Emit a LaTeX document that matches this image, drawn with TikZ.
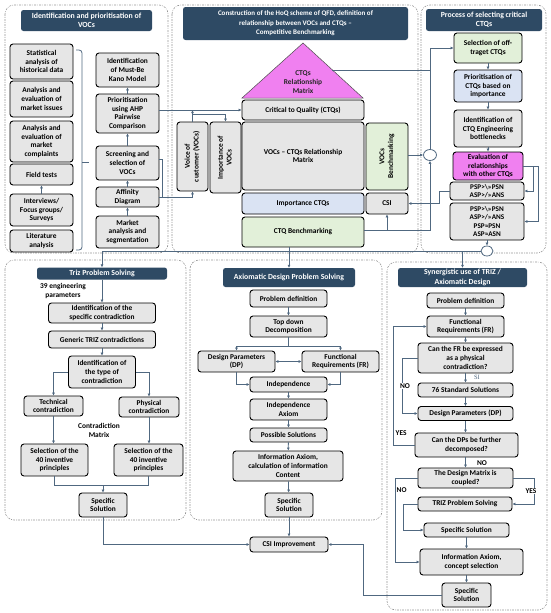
\documentclass[tikz,border=0pt]{standalone}
\usepackage{fontspec}
\setmainfont{Carlito}
\newfontfamily\sifont{Liberation Serif}
\usetikzlibrary{arrows.meta,positioning,calc,shapes.geometric}
\definecolor{titleblue}{RGB}{46,74,100}
\definecolor{boxgray}{RGB}{230,230,230}
\definecolor{boxgreen}{RGB}{226,240,217}
\definecolor{boxblue}{RGB}{218,227,243}
\definecolor{boxpink}{RGB}{240,128,240}
\definecolor{linecol}{RGB}{80,104,128}
\definecolor{framecol}{RGB}{150,150,150}
\tikzset{
  stepbox/.style={draw=black, line width=0.9pt, rounded corners=3pt, fill=boxgray,
    align=center, inner sep=0.5pt, font=\fontsize{7.4}{8.8}\selectfont\bfseries},
  titlebox/.style={fill=titleblue, rounded corners=2.5pt, align=center, inner sep=0.5pt,
    text=white, font=\fontsize{7.8}{9.4}\selectfont\bfseries},
  panel/.style={draw=framecol, line width=0.6pt, rounded corners=9pt,
    dash pattern=on 2pt off 1.2pt on 0.6pt off 1.2pt},
  conn/.style={draw=linecol, line width=0.8pt, -{Latex[length=3pt,width=3pt]}},
  plain/.style={draw=linecol, line width=0.8pt},
  lbl/.style={font=\fontsize{7.4}{8.8}\selectfont\bfseries, align=center, inner sep=0.5pt},
  hub/.style={ellipse, draw=linecol, line width=0.8pt, fill=white,
    minimum width=13, minimum height=11, inner sep=0pt}
}
\newcommand{\vtext}[1]{\rotatebox{90}{\begin{tabular}{@{}c@{}}#1\end{tabular}}}
\begin{document}
\begin{tikzpicture}[x=1pt,y=-1pt]
	\useasboundingbox (0,0) rectangle (550,613);
	% panels
	\draw[panel] (5,5) rectangle (168,253);
	\draw[panel] (172,5) rectangle (418,253);
	\draw[panel] (421,5) rectangle (546,253);
	\draw[panel] (5,260) rectangle (186,520);
	\draw[panel] (190,260) rectangle (382,520);
	\draw[panel] (387,262) rectangle (547,610);

	% VOCs
	\node[titlebox, minimum width=131, minimum height=21] (tvoc) at (86.5,20.5) {Identification and prioritisation of\\VOCs};
	\node[stepbox, minimum width=63, minimum height=35] (stat) at (41.5,61.5) {Statistical\\analysis of\\historical data};
	\node[stepbox, minimum width=63, minimum height=36] (issues) at (41.5,99) {Analysis and\\evaluation of\\market issues};
	\node[stepbox, minimum width=63, minimum height=41] (compl) at (41.5,141.5) {Analysis and\\evaluation of\\market\\complaints};
	\node[stepbox, minimum width=63, minimum height=21] (field) at (41.5,174.5) {Field tests};
	\node[stepbox, minimum width=63, minimum height=32] (interv) at (41.5,210) {Interviews/\\Focus groups/\\Surveys};
	\node[stepbox, minimum width=63, minimum height=22] (lit) at (41.5,241) {Literature\\analysis};
	\node[stepbox, minimum width=63, minimum height=34] (kano) at (127.5,70) {Identification\\of Must-Be\\Kano Model};
	\node[stepbox, minimum width=63, minimum height=39] (ahp) at (127.5,113.5) {Prioritisation\\using AHP\\Pairwise\\Comparison};
	\node[stepbox, minimum width=63, minimum height=34] (screen) at (127.5,163) {Screening and\\selection of\\VOCs};
	\node[stepbox, minimum width=63, minimum height=20] (affin) at (127.5,197) {Affinity\\Diagram};
	\node[stepbox, minimum width=63, minimum height=32] (market) at (127.5,232) {Market\\analysis and\\segmentation};
	\draw[plain, rounded corners=3pt] (76,50) -- (82,50) -- (82,250) -- (76,250);
	\draw[plain] (82,162) -- (89,162);
	\draw[conn] (interv) -- (field);
	\draw[conn] (market) -- (affin);
	\draw[conn] (affin) -- (screen);
	\draw[conn] (screen) -- (ahp);
	\draw[conn] (ahp) -- (kano);

	% HoQ
	\node[titlebox, minimum width=225, minimum height=33, font=\fontsize{7}{9.5}\selectfont\bfseries] (thoq) at (295.5,23.5) {Construction of the HoQ scheme of QFD, definition of\\relationship between VOCs and CTQs --\\Competitive Benchmarking};
	\coordinate (apex) at (303,43);
	\coordinate (triL) at (242,98);
	\coordinate (triR) at (363,98);
	\draw[black!70, line width=0.5pt, fill=boxpink] (apex) -- (triR) -- (triL) -- cycle;
	\node[lbl, text=black!85] (ctqmat) at (303,82) {CTQs\\Relationship\\Matrix};
	\node[stepbox, minimum width=122, minimum height=20] (ctq) at (303,110) {Critical to Quality (CTQs)};
	\node[stepbox, minimum width=31, minimum height=69] (voc) at (192.5,156.5) {\vtext{Voice of\\customer (VOCs)}};
	\node[stepbox, minimum width=31, minimum height=71] (impv) at (225.5,157.5) {\vtext{Importance of\\VOCs}};
	\node[stepbox, minimum width=122, minimum height=68] (matrix) at (303,156) {VOCs -- CTQs Relationship\\Matrix};
	\node[stepbox, fill=boxgreen, minimum width=42, minimum height=67] (vocb) at (387,156.5) {\vtext{VOCs\\Benchmarking}};
	\node[stepbox, fill=boxblue, minimum width=122, minimum height=21] (impc) at (303,203.5) {Importance CTQs};
	\node[stepbox, minimum width=42, minimum height=21] (csi) at (387,203.5) {CSI};
	\node[stepbox, fill=boxgreen, minimum width=122, minimum height=30] (ctqb) at (303,232) {CTQ Benchmarking};

	% critical CTQs
	\node[titlebox, minimum width=116, minimum height=22] (tsel) at (484,20) {Process of selecting critical\\CTQs};
	\node[stepbox, fill=boxgreen, minimum width=68, minimum height=30] (offt) at (488,48) {Selection of off-\\traget CTQs};
	\node[stepbox, fill=boxblue, minimum width=68, minimum height=32] (prio) at (488,86) {Prioritisation of\\CTQs based on\\importance};
	\node[stepbox, minimum width=68, minimum height=37] (bott) at (488,128.5) {Identification of\\CTQ Engineering\\bottlenecks};
	\node[stepbox, fill=boxpink, minimum width=70, minimum height=28] (eval) at (488,166) {Evaluation of\\relationships\\with other CTQs};
	\node[stepbox, minimum width=74, minimum height=18, font=\fontsize{7.2}{8.3}\selectfont\bfseries] (psp1) at (487,191) {PSP>\textbackslash>>PSN\\ASP>/>>ANS};
	\node[stepbox, minimum width=74, minimum height=37, font=\fontsize{7.2}{8.3}\selectfont\bfseries] (psp2) at (487,221.5) {PSP>\textbackslash>>PSN\\ASP>/>>ANS\\PSP≈PSN\\ASP≈ASN};
	\node[hub] (hubA) at (430,155) {};
	\node[hub, minimum width=12, minimum height=10] (hubB) at (487,251) {};
	\draw[conn] (offt) -- (prio);
	\draw[conn] (prio) -- (bott);
	\draw[conn] (bott) -- (eval);
	\draw[conn] (eval.east) -- ++(10,0) |- (psp1.east);
	\draw[conn] (eval.east) -- ++(15,0) |- (psp2.east);
	\draw[conn] (psp2) -- (hubB);

	% links between the top panels
	\coordinate (vocsplit) at (192.5,114);
	\coordinate (vbus) at (162,197);
	\coordinate (triout) at ($(apex)!0.49!(triR)$);
	\coordinate (ctqbout) at ([yshift=2pt]ctqb.east);
	\draw[conn] (ahp.east |- ctq.west) -- (ctq.west);
	\draw[conn] (voc.north) -- (voc.north |- ctq.west);
	\draw[conn] (vocsplit) -| (impv.north);
	\draw[plain] ([yshift=4pt]screen.east) -| (vbus);
	\draw[plain] (affin.east) -- (vbus);
	\draw[conn] (vbus) -| (voc.south);
	\draw[plain] (triout) -- (triout -| hubA.north);
	\draw[conn] (hubA.north) |- (offt.west);
	\draw[conn] (vocb.east |- hubA.west) -- (hubA.west);
	\draw[conn] (ctqbout) -| (hubA.south);
	\draw[conn] (csi.south |- ctqbout) -- (csi.south);
	\draw[conn] (psp1.west) -- ++(-10,0) |- (csi.east);

	% TRIZ
	\node[titlebox, minimum width=130, minimum height=12] (ttriz) at (102,273.5) {Triz Problem Solving};
	\node[lbl] (eng) at (63,291) {39 engineering\\parameters};
	\node[stepbox, minimum width=107, minimum height=20] (spec) at (102,313) {Identification of the\\specific contradiction};
	\node[stepbox, minimum width=107, minimum height=17] (gen) at (102,339.5) {Generic TRIZ contradictions};
	\node[stepbox, minimum width=67, minimum height=32] (ctype) at (102,372) {Identification of\\the type of\\contradiction};
	\node[stepbox, minimum width=59, minimum height=20] (tech) at (53.5,406) {Technical\\contradiction};
	\node[stepbox, minimum width=60, minimum height=20] (phys) at (149,407) {Physical\\contradiction};
	\node[lbl] (cmat) at (99,430.5) {Contradiction\\Matrix};
	\node[stepbox, minimum width=67, minimum height=32] (inva) at (54.5,460) {Selection of the\\40 inventive\\principles};
	\node[stepbox, minimum width=69, minimum height=32] (invb) at (148.5,460) {Selection of the\\40 inventive\\principles};
	\node[stepbox, minimum width=48, minimum height=24] (solA) at (103,505) {Specific\\Solution};
	\coordinate (tjoin) at (103,485);
	\draw[conn] (ttriz.south -| spec.north) -- (spec.north);
	\draw[conn] (spec) -- (gen);
	\draw[conn] (gen) -- (ctype);
	\draw[conn] (ctype.west) -| (tech.north);
	\draw[conn] (ctype.east) -| (phys.north);
	\draw[conn] (tech.south) -- (tech.south |- inva.north);
	\draw[conn] (phys.south) -- (phys.south |- invb.north);
	\draw[plain] (inva.south) |- (tjoin);
	\draw[plain] (invb.south) |- (tjoin);
	\draw[conn] (tjoin) -- (solA.north);

	% Axiomatic design
	\node[titlebox, minimum width=132, minimum height=19] (taxd) at (289,277.5) {Axiomatic Design Problem Solving};
	\node[stepbox, minimum width=77, minimum height=17] (pdef) at (288.5,298.5) {Problem definition};
	\node[stepbox, minimum width=77, minimum height=21] (topd) at (288.5,326.5) {Top down\\Decomposition};
	\node[stepbox, minimum width=77, minimum height=21] (dp) at (236.5,361.5) {Design Parameters\\(DP)};
	\node[stepbox, minimum width=77, minimum height=21] (fr) at (340.5,361.5) {Functional\\Requirements (FR)};
	\node[stepbox, minimum width=77, minimum height=15] (indep) at (288.5,384.5) {Independence};
	\node[stepbox, minimum width=77, minimum height=21] (indax) at (288.5,409.5) {Independence\\Axiom};
	\node[stepbox, minimum width=77, minimum height=14] (poss) at (288.5,435) {Possible Solutions};
	\node[stepbox, minimum width=110, minimum height=30] (infa) at (288,466) {Information Axiom,\\calculation of information\\Content};
	\node[stepbox, minimum width=48, minimum height=24] (solB) at (289,505) {Specific\\Solution};
	\node[stepbox, minimum width=78, minimum height=15] (csiimp) at (289,544.5) {CSI Improvement};
	\coordinate (split) at (288.5,346);
	\draw[conn] (pdef) -- (topd);
	\draw[plain] (topd.south) -- (split);
	\draw[conn] (split) -| (dp.north);
	\draw[conn] (split) -| (fr.north);
	\draw[conn, {Latex[length=3pt,width=3pt]}-{Latex[length=3pt,width=3pt]}] (dp) -- (fr);
	\draw[conn] (dp.south) |- (indep.west);
	\draw[conn] (fr.south) |- (indep.east);
	\draw[conn] (indep) -- (indax);
	\draw[conn] (indax) -- (poss);
	\draw[conn] (poss) -- (infa);
	\draw[conn] (infa) -- (solB);
	\draw[conn] (solB) -- (csiimp);
	\draw[conn] (solA.south) |- (csiimp.west);

	% Synergistic TRIZ / AD
	\node[titlebox, minimum width=129, minimum height=19] (tsyn) at (462.5,277.5) {Synergistic use of TRIZ /\\Axiomatic Design};
	\node[stepbox, minimum width=77, minimum height=15] (pdefs) at (465.5,300.5) {Problem definition};
	\node[stepbox, minimum width=77, minimum height=21] (frs) at (465.5,326.5) {Functional\\Requirements (FR)};
	\node[stepbox, minimum width=95, minimum height=30] (canfr) at (465.5,358) {Can the FR be expressed\\as a physical\\contradiction?};
	\node[stepbox, minimum width=95, minimum height=14] (std) at (465.5,390) {76 Standard Solutions};
	\node[stepbox, minimum width=95, minimum height=14] (dps) at (465.5,413.5) {Design Parameters (DP)};
	\node[stepbox, minimum width=103, minimum height=24] (candp) at (466.5,445) {Can the DPs be further\\decomposed?};
	\node[stepbox, minimum width=95, minimum height=20] (dmat) at (465.5,478) {The Design Matrix is\\coupled?};
	\node[stepbox, minimum width=94, minimum height=14] (trizs) at (465,504) {TRIZ Problem Solving};
	\node[stepbox, minimum width=85, minimum height=14] (solC) at (466.5,530) {Specific Solution};
	\node[stepbox, minimum width=103, minimum height=26] (infc) at (471.5,562) {Information Axiom,\\concept selection};
	\node[stepbox, minimum width=49, minimum height=24] (solD) at (466.5,595) {Specific\\Solution};
	\draw[conn] (pdefs) -- (frs);
	\draw[conn] (frs) -- (canfr);
	\draw[conn] (canfr) -- (std);
	\draw[conn] (std) -- (dps);
	\draw[conn] (dps) -- (candp.north -| dps.south);
	\draw[conn] (candp.south -| dmat.north) -- (dmat.north);
	\draw[conn] (canfr.west) -- ++(-15,0) |- (dps.west);
	\draw[conn] (candp.west) -- ++(-21,0) |- (frs.west);
	\draw[conn] (dmat.west) -- ++(-22,0) |- (infc.west);
	\draw[conn] (dmat.east) -- ++(21,0) |- (trizs.east);
	\draw[conn] (trizs.west) -- ++(-14,0) |- (solC.west);
	\draw[conn] (solC.south) -- (solC.south |- infc.north);
	\draw[conn] (infc.south -| solD.north) -- (solD.north);
	\draw[conn] (solD.west) -| ($(csiimp.east)+(35,0)$) -- (csiimp.east);
	\node[font=\fontsize{6.5}{7}\selectfont\sifont, text=linecol, inner sep=0pt] (si) at (477,377.5) {SI};
	\node[lbl, fill=white] (nofr) at (405,386) {NO};
	\node[lbl, anchor=west] (yesdp) at (395,433) {YES};
	\node[lbl] (nodec) at (482,463) {NO};
	\node[lbl, anchor=west] (nocp) at (396,490) {NO};
	\node[lbl, fill=white] (yescp) at (531,491) {YES};

	% distribution to the bottom panels
	\coordinate (tdrop) at (102,251);
	\draw[plain] (hubB.west) -- (tdrop);
	\draw[conn] (tdrop) -- (ttriz.north -| tdrop);
	\draw[conn] (taxd.north |- ctqb.south) -- (taxd.north);
	\draw[conn] (hubB.west -| tsyn.north) -- (tsyn.north);
\end{tikzpicture}
\end{document}
